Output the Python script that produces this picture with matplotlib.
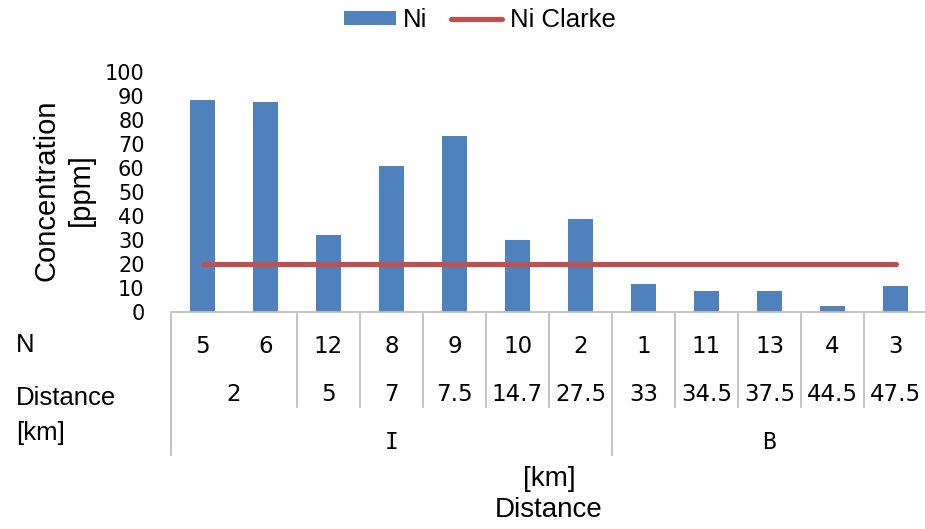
import numpy as np
import matplotlib
matplotlib.use('Agg')
import matplotlib.pyplot as plt
import matplotlib.transforms as mtransforms
from matplotlib.patches import Patch
from matplotlib.lines import Line2D

# ---- data ----
sample_n   = ['5', '6', '12', '8', '9', '10', '2', '1', '11', '13', '4', '3']
ni_ppm     = [88.2, 87.7, 32.2, 61.0, 73.2, 29.9, 38.9, 11.8, 8.6, 8.6, 2.7, 10.7]
ni_clarke  = 20
dist_labels = ['2', '5', '7', '7.5', '14.7', '27.5', '33', '34.5', '37.5', '44.5', '47.5']
dist_sizes  = [2, 1, 1, 1, 1, 1, 1, 1, 1, 1, 1]
region_labels = ['I', 'B']
region_sizes  = [7, 5]

BAR_C  = '#4F81BD'
LINE_C = '#C0504D'
GRID_C = '#BFBFBF'
WORD_FONT = ['Liberation Sans', 'DejaVu Sans']
NUM_FONT  = ['DejaVu Sans']

W, H = 925, 529
fig = plt.figure(figsize=(W / 100, H / 100), dpi=100)
# plot area in pixels: x 171..927 (runs just past the right edge), y 72..312
ax = fig.add_axes([171 / W, 1 - 312 / H, 756 / W, 240 / H])

x = np.arange(len(sample_n))
ax.bar(x, ni_ppm, width=0.4, color=BAR_C, zorder=2)
ax.plot([x[0], x[-1]], [ni_clarke, ni_clarke], color=LINE_C, lw=3.7,
        solid_capstyle='round', zorder=3)

ax.set_xlim(-0.5, len(sample_n) - 0.5)
ax.set_ylim(0, 100)
ax.set_yticks(np.arange(0, 101, 10))
ax.tick_params(axis='y', length=0, pad=19, labelsize=15)
for lab in ax.get_yticklabels():
    lab.set_family(NUM_FONT)
ax.set_xticks([])
for s in ['top', 'right', 'left']:
    ax.spines[s].set_visible(False)
ax.spines['bottom'].set_color(GRID_C)
ax.spines['bottom'].set_linewidth(1.3)

# ---- multi-level category table under the axis ----
def ypx(p):
    return (312 - p) / 240.0

trans = mtransforms.blended_transform_factory(ax.transData, ax.transAxes)
for xi, lab in zip(x, sample_n):
    ax.text(xi, ypx(353), lab, transform=trans, ha='center', va='baseline',
            fontsize=16.5, family=NUM_FONT)

dist_edges = np.concatenate([[0], np.cumsum(dist_sizes)]) - 0.5
for lab, a, b in zip(dist_labels, dist_edges[:-1], dist_edges[1:]):
    ax.text((a + b) / 2, ypx(401.5), lab, transform=trans, ha='center',
            va='baseline', fontsize=16.5, family=NUM_FONT)

reg_edges = np.concatenate([[0], np.cumsum(region_sizes)]) - 0.5
for lab, a, b in zip(region_labels, reg_edges[:-1], reg_edges[1:]):
    ax.text((a + b) / 2, ypx(449), lab, transform=trans, ha='center',
            va='baseline', fontsize=16.5, family=['DejaVu Sans Mono'])

for e in dist_edges:
    bottom = ypx(455) if e in reg_edges else ypx(407)
    ax.plot([e, e], [ypx(314), bottom], transform=trans, color=GRID_C,
            lw=1.3, clip_on=False)

# row labels on the left
ftrans = mtransforms.blended_transform_factory(fig.transFigure, ax.transAxes)
for lab, yb in [('N', 351.5), ('Distance', 405), ('[km]', 440)]:
    ax.text(16 / W, ypx(yb), lab, transform=ftrans, ha='left', va='baseline',
            fontsize=18.5, family=WORD_FONT)

# axis titles
fig.text(47 / W, 1 - 190 / H, 'Concentration', rotation=90, ha='center',
         va='center', fontsize=21, family=WORD_FONT)
fig.text(81 / W, 1 - 190 / H, '[ppm]', rotation=90, ha='center',
         va='center', fontsize=21, family=WORD_FONT)
fig.text(549 / W, 1 - 486 / H, '[km]', ha='center', va='baseline',
         fontsize=20, family=WORD_FONT)
fig.text(549 / W, 1 - 517 / H, 'Distance', ha='center', va='baseline',
         fontsize=20, family=WORD_FONT)

# legend
handles = [Patch(facecolor=BAR_C, edgecolor='none', label='Ni'),
           Line2D([], [], color=LINE_C, lw=3.7, solid_capstyle='round',
                  label='Ni Clarke')]
fig.legend(handles=handles, loc='center', bbox_to_anchor=(480 / W, 1 - 20 / H),
           ncol=2, frameon=False, prop={'family': WORD_FONT, 'size': 18.5},
           handlelength=2.0, handleheight=0.45, handletextpad=0.3,
           columnspacing=0.9, borderpad=0, borderaxespad=0)

fig.savefig('out.png', dpi=100)
